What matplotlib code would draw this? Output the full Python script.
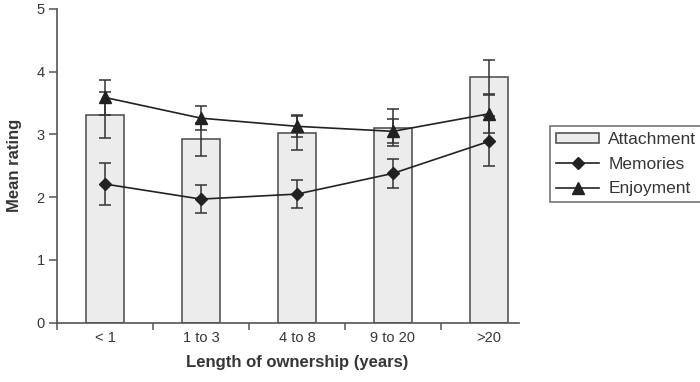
import matplotlib
matplotlib.use("Agg")
import matplotlib.pyplot as plt
import numpy as np
from matplotlib.patches import Patch
from matplotlib.lines import Line2D

categories = ["< 1", "1 to 3", "4 to 8", "9 to 20", ">20"]
attachment = [3.31, 2.92, 3.03, 3.11, 3.91]
attachment_err = [0.37, 0.26, 0.28, 0.30, 0.28]
memories = [2.21, 1.97, 2.05, 2.38, 2.89]
memories_err = [0.33, 0.22, 0.22, 0.23, 0.40]
enjoyment = [3.59, 3.26, 3.13, 3.05, 3.33]
enjoyment_err = [0.28, 0.19, 0.17, 0.19, 0.31]
yticks = [0, 1, 2, 3, 4, 5]

plt.rcParams['font.family'] = ['Liberation Sans', 'DejaVu Sans']
text_col = '#363636'
axis_col = '#555555'

fig = plt.figure(figsize=(7, 3.82), dpi=100)
ax = fig.add_axes([57/700, 1 - 322.7/382, (519-57)/700, (322.7-9)/382])

x = np.arange(len(categories))
ax.bar(x, attachment, width=0.4, color='#ececec', edgecolor=axis_col, linewidth=1.2, zorder=1)
for vals, errs in [(attachment, attachment_err), (memories, memories_err), (enjoyment, enjoyment_err)]:
    ax.errorbar(x, vals, yerr=errs, fmt='none', ecolor='#333333',
                elinewidth=1.1, capsize=4.5, capthick=1.1, zorder=2)
ax.plot(x, memories, color='#222222', lw=1.2, marker='D', markersize=6, zorder=3)
ax.plot(x, enjoyment, color='#222222', lw=1.2, marker='^', markersize=8, zorder=3)

xmin, xmax = -0.5, 4.3125
ax.set_xlim(xmin, xmax)
ax.set_ylim(0, 5)
ax.set_yticks(yticks)
ax.set_xticks(x)
ax.set_xticklabels(categories)
ax.set_xticks([-0.5, 0.5, 1.5, 2.5, 3.5], minor=True)
ax.tick_params(axis='x', which='major', length=0, pad=6, labelsize=10.5, labelcolor=text_col)
ax.tick_params(axis='x', which='minor', length=5, color=axis_col, width=1.1)
ax.tick_params(axis='y', length=6, color=axis_col, width=1.1, labelsize=10.5, labelcolor=text_col, pad=3)
for s in ['top', 'right']:
    ax.spines[s].set_visible(False)
for s in ['left', 'bottom']:
    ax.spines[s].set_color(axis_col)
    ax.spines[s].set_linewidth(1.2)

label_x = (2 - xmin) / (xmax - xmin)
ax.set_xlabel("Length of ownership (years)", fontsize=12, fontweight='bold', color=text_col,
              labelpad=7, x=label_x)
ax.set_ylabel("Mean rating", fontsize=12, fontweight='bold', color=text_col, labelpad=10)

handles = [
    Patch(facecolor='#ececec', edgecolor=axis_col, linewidth=1.2, label='Attachment'),
    Line2D([], [], color='#222222', lw=1.2, marker='D', markersize=6, label='Memories'),
    Line2D([], [], color='#222222', lw=1.2, marker='^', markersize=8, label='Enjoyment'),
]
leg = fig.legend(handles=handles, loc='upper left', bbox_to_anchor=(550/700, 1 - 126/382),
                 frameon=True, fancybox=False, fontsize=12.5, handlelength=2.5, handleheight=0.45,
                 borderpad=0.35, labelspacing=0.55, handletextpad=0.5, borderaxespad=0)
leg.get_frame().set_edgecolor(axis_col)
leg.get_frame().set_linewidth(1.2)
for t in leg.get_texts():
    t.set_color(text_col)

fig.savefig("out.png", dpi=100)
